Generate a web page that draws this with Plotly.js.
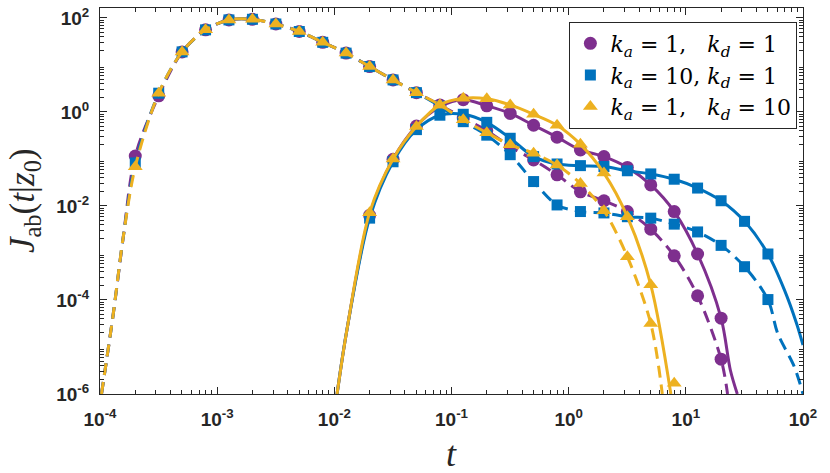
<!DOCTYPE html>
<html>
<head>
<meta charset="utf-8">
<script src="https://cdn.plot.ly/plotly-3.0.1.min.js"></script>
<style>
  html, body { margin: 0; padding: 0; background: #fff; }
  #plot { width: 830px; height: 473px; }
</style>
</head>
<body>
<div id="plot"></div>
<script>
// sample times of the markers (log-spaced)
var tEarly = [2e-4, 3.17e-4, 5.02e-4, 7.96e-4, 1.26e-3, 2e-3, 3.17e-3, 5.02e-3, 7.96e-3, 1.26e-2, 2e-2, 3.17e-2, 5.02e-2];
var tLate = [7.96e-2, 0.126, 0.2, 0.317, 0.502, 0.796, 1.26, 2, 3.17, 5.02, 7.96, 12.6, 20, 31.7, 50.2, 79.6];
var tSolid = [2e-2, 3.17e-2, 5.02e-2, 7.96e-2, 0.126, 0.2, 0.317, 0.502, 0.796, 1.26, 2, 3.17, 5.02, 7.96, 12.6, 20, 31.7, 50.2];

// dashed curves: shared early part
var jEarlyA = [0.115, 2.2, 18.9, 55.6, 90.6, 93.3, 74.1, 51.3, 30.2, 17.8, 9.2, 4.79, 2.57];
var jEarlyB = [0.082, 2.5, 18.9, 55.6, 90.6, 93.3, 74.1, 51.3, 30.2, 17.8, 9.2, 4.79, 2.57];
var jEarlyC = [0.068, 2.5, 18.9, 55.6, 90.6, 93.3, 74.1, 51.3, 30.2, 17.8, 9.2, 4.79, 2.57];

// dashed curves: late part (k_a=1,k_d=1 / k_a=10,k_d=1 / k_a=1,k_d=10)
var jDashA = [1.41, 0.74, 0.40, 0.182, 0.095, 0.046, 0.020, 0.0129, 0.0076, 0.0032, 8.7e-4, 1.23e-4, 5.5e-6];
var jDashB = [1.32, 0.62, 0.32, 0.123, 0.033, 0.0105, 0.0076, 0.0071, 0.0059, 0.0055, 0.0041, 0.0028, 0.00145, 5.1e-4, 1.02e-4];
var jDashC = [1.41, 0.68, 0.36, 0.20, 0.132, 0.074, 0.030, 0.0079, 8.3e-4, 3.16e-5];

// solid curves
var jSolidA = [0.0063, 0.098, 0.50, 1.29, 1.82, 1.35, 0.93, 0.52, 0.29, 0.155, 0.112, 0.066, 0.028, 0.0076, 9.5e-4, 4.1e-5];
var jSolidB = [0.0055, 0.087, 0.42, 0.85, 0.89, 0.60, 0.275, 0.112, 0.078, 0.072, 0.069, 0.056, 0.048, 0.037, 0.024, 0.0129, 0.0047, 9.5e-4];
var jSolidC = [0.0072, 0.10, 0.49, 1.41, 1.95, 1.91, 1.41, 0.89, 0.52, 0.204, 0.050, 0.0059, 2.1e-4, 1.7e-6];

// line-only ends of the curves, where they leave the axes
var tDashHead = [1.03e-4, 1.3e-4, 1.58e-4];
var jDashHead = [1e-6, 5.2e-5, 2.2e-3];
var tSolidHead = [1.055e-2, 1.28e-2];
var jSolidHead = [1e-6, 2.3e-5];
var tDashTailA = [22.7], jDashTailA = [1e-6];
var tDashTailB = [60.8, 84.3, 100], jDashTailB = [1.95e-5, 3.8e-6, 1e-6];
var tDashTailC = [6.3], jDashTailC = [1e-6];
var tSolidTailA = [24, 27.5], jSolidTailA = [3.2e-6, 1e-6];
var tSolidTailB = [69.5, 88, 100], jSolidTailB = [1.62e-4, 3.2e-5, 1.1e-5];
var tSolidTailC = [7.45], jSolidTailC = [1e-6];

var names = ['<i>k</i><sub><i>a</i></sub> = 1,\u00a0\u00a0\u00a0<i>k</i><sub><i>d</i></sub> = 1',
             '<i>k</i><sub><i>a</i></sub> = 10, <i>k</i><sub><i>d</i></sub> = 1',
             '<i>k</i><sub><i>a</i></sub> = 1,\u00a0\u00a0\u00a0<i>k</i><sub><i>d</i></sub> = 10'];
var colors = ['#7E2F8E', '#0072BD', '#EDB120'];
var symbols = ['circle', 'square', 'triangle-up'];
var sizes = [13, 11, 13];

var series = [
  {early: jEarlyA, dash: jDashA, solid: jSolidA, dT: tDashTailA, dJ: jDashTailA, sT: tSolidTailA, sJ: jSolidTailA, solidEnd: jSolidA.length},
  {early: jEarlyB, dash: jDashB, solid: jSolidB, dT: tDashTailB, dJ: jDashTailB, sT: tSolidTailB, sJ: jSolidTailB, solidEnd: jSolidB.length},
  {early: jEarlyC, dash: jDashC, solid: jSolidC, dT: tDashTailC, dJ: jDashTailC, sT: tSolidTailC, sJ: jSolidTailC, solidEnd: jSolidC.length - 1}
];

var data = [];
series.forEach(function (s, i) {
  var dashT = tEarly.concat(tLate.slice(0, s.dash.length));
  var dashJ = s.early.concat(s.dash);
  var solT = tSolid.slice(0, s.solid.length);
  // dashed line
  data.push({
    x: tDashHead.concat(dashT, s.dT), y: jDashHead.concat(dashJ, s.dJ),
    mode: 'lines', type: 'scatter', showlegend: false, hoverinfo: 'skip',
    line: {color: colors[i], width: 3, dash: '12px,7px', shape: 'spline', smoothing: 0.9}
  });
  // solid line
  data.push({
    x: tSolidHead.concat(solT.slice(0, s.solidEnd), s.sT),
    y: jSolidHead.concat(s.solid.slice(0, s.solidEnd), s.sJ),
    mode: 'lines', type: 'scatter', showlegend: false, hoverinfo: 'skip',
    line: {color: colors[i], width: 3, shape: 'spline', smoothing: 0.9}
  });
  // markers
  data.push({
    x: dashT.concat(solT), y: dashJ.concat(s.solid),
    mode: 'markers', type: 'scatter', name: names[i],
    marker: {color: colors[i], symbol: symbols[i], size: sizes[i], line: {width: 0}}
  });
});

var xmin = [], ymin = [];
for (var e = -4; e < 2; e++) for (var m = 2; m < 10; m++) xmin.push(m * Math.pow(10, e));
for (var e2 = -6; e2 < 3; e2++) for (var m2 = 2; m2 < 10; m2++) ymin.push(m2 * Math.pow(10, e2));

var tickFont = {family: 'Liberation Sans, Arial, sans-serif', size: 19, color: '#262626', weight: 'bold'};
var axisCommon = {
  type: 'log', showgrid: false, zeroline: false, showline: true, linecolor: '#262626', linewidth: 1,
  mirror: 'allticks', ticks: 'inside', ticklen: 7, tickcolor: '#262626', tickwidth: 1,
  tickfont: tickFont, tickmode: 'array',
  minor: {ticks: 'inside', ticklen: 4, tickcolor: '#262626', tickwidth: 1, tickmode: 'array'}
};

var layout = {
  width: 830, height: 473,
  margin: {l: 100, r: 27, t: 8, b: 79},
  paper_bgcolor: '#fff', plot_bgcolor: '#fff',
  xaxis: Object.assign({}, axisCommon, {
    range: [-4, 2],
    tickvals: [1e-4, 1e-3, 1e-2, 1e-1, 1, 10, 100],
    ticktext: ['10<sup>-4</sup>', '10<sup>-3</sup>', '10<sup>-2</sup>', '10<sup>-1</sup>', '10<sup>0</sup>', '10<sup>1</sup>', '10<sup>2</sup>'],
    ticklabelstandoff: 8,
    minor: Object.assign({}, axisCommon.minor, {tickvals: xmin})
  }),
  yaxis: Object.assign({}, axisCommon, {
    range: [-6, 2.21],
    tickvals: [1e-6, 1e-4, 1e-2, 1, 100],
    ticktext: ['10<sup>-6</sup>', '10<sup>-4</sup>', '10<sup>-2</sup>', '10<sup>0</sup>', '10<sup>2</sup>'],
    ticklabelstandoff: 6,
    minor: Object.assign({}, axisCommon.minor, {tickvals: ymin})
  }),
  annotations: [
    {text: '<i>t</i>', xref: 'paper', yref: 'paper', x: 0.5, y: -0.155,
     xanchor: 'center', yanchor: 'middle', showarrow: false,
     font: {family: 'Liberation Serif, serif', size: 36, color: '#262626'}},
    {text: '<i>J</i><sub>ab</sub>(<i>t</i>|<i>z</i><sub>0</sub>)', xref: 'paper', yref: 'paper',
     x: -0.108, y: 0.50, xanchor: 'center', yanchor: 'middle', textangle: -90, showarrow: false,
     font: {family: 'Liberation Serif, serif', size: 35, color: '#262626'}}
  ],
  legend: {
    x: 0.992, xanchor: 'right', y: 0.965, yanchor: 'top',
    bgcolor: '#fff', bordercolor: '#262626', borderwidth: 1,
    font: {family: 'DejaVu Serif, serif', size: 22, color: '#000'},
    tracegroupgap: 0, itemwidth: 30
  },
  showlegend: true
};

Plotly.newPlot('plot', data, layout, {displayModeBar: false, staticPlot: true});
</script>
</body>
</html>
